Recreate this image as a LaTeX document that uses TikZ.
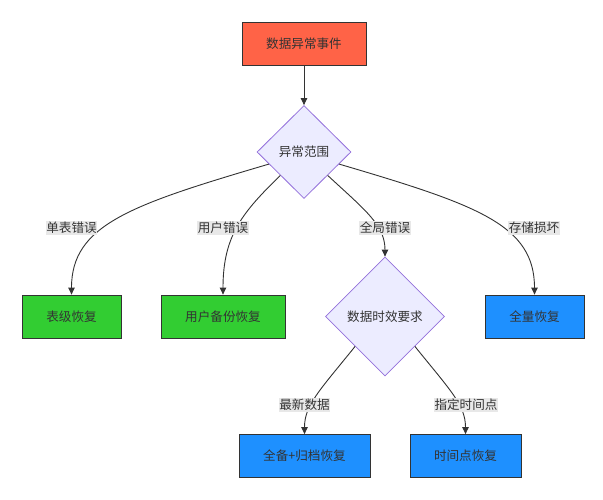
\documentclass[tikz,border=0pt]{standalone}
\usepackage{fontspec}
\setmainfont{Noto Sans CJK SC}
\usepackage{tikz}
\usetikzlibrary{shapes.geometric, arrows.meta}

\definecolor{evtred}{HTML}{FF6347}
\definecolor{okgreen}{HTML}{32CD32}
\definecolor{fullblue}{HTML}{1E90FF}
\definecolor{decfill}{HTML}{ECECFF}
\definecolor{decline}{HTML}{9370DB}
\definecolor{lblgray}{HTML}{E8E8E8}
\definecolor{ink}{HTML}{333333}

\begin{document}
\begin{tikzpicture}[x=1pt, y=-1pt,
        every node/.style={font=\fontsize{12.6}{15}\selectfont, text=ink},
        box/.style={rectangle, draw=ink, line width=0.8pt, minimum height=43pt, inner sep=0pt},
        decision/.style={diamond, draw=decline, fill=decfill, line width=0.8pt, inner sep=0pt},
        lbl/.style={fill=lblgray, inner xsep=0.5pt, inner ysep=1.5pt},
        flow/.style={draw=ink, line width=0.9pt, -{Triangle[length=7pt, width=6.5pt]}}]
        \useasboundingbox (0, 0) rectangle (603, 500);

        \node[box, fill=evtred, minimum width=124pt] (event) at (304, 43.5) {数据异常事件};
        \node[decision, minimum width=94pt, minimum height=93pt] (scope) at (304, 152) {异常范围};
        \node[box, fill=okgreen, minimum width=99pt] (table) at (71.5, 316.5) {表级恢复};
        \node[box, fill=okgreen, minimum width=124pt] (user) at (223, 316.5) {用户备份恢复};
        \node[decision, minimum width=119pt, minimum height=119pt] (freshness) at (385, 316.5) {数据时效要求};
        \node[box, fill=fullblue, minimum width=99pt] (full) at (534.5, 316.5) {全量恢复};
        \node[box, fill=fullblue, minimum width=131pt] (archive) at (304.5, 456) {全备+归档恢复};
        \node[box, fill=fullblue, minimum width=111pt] (pitr) at (465.5, 456) {时间点恢复};

        \draw[flow] (event) -- (scope);
        \draw[flow] (scope.199) .. controls (130, 205) and (71.5, 225) .. (table.north);
        \draw[flow] (scope.south west) .. controls (243, 212) and (223, 235) .. (user.north);
        \draw[flow] (scope.south east) .. controls (365, 210) and (385, 225) .. (freshness.north);
        \draw[flow] (scope.341) .. controls (478, 205) and (534.5, 225) .. (full.north);
        \draw[flow] (freshness.south west) .. controls (320, 390) and (304.5, 405) .. (archive.north);
        \draw[flow] (freshness.south east) .. controls (450, 390) and (465.5, 405) .. (pitr.north);

        \node[lbl] (single) at (71.5, 228) {单表错误};
        \node[lbl] (usererr) at (223, 228) {用户错误};
        \node[lbl] (global) at (385, 228) {全局错误};
        \node[lbl] (storage) at (534, 228) {存储损坏};
        \node[lbl] (latest) at (304.5, 405) {最新数据};
        \node[lbl] (point) at (466, 405) {指定时间点};
    \end{tikzpicture}
\end{document}
